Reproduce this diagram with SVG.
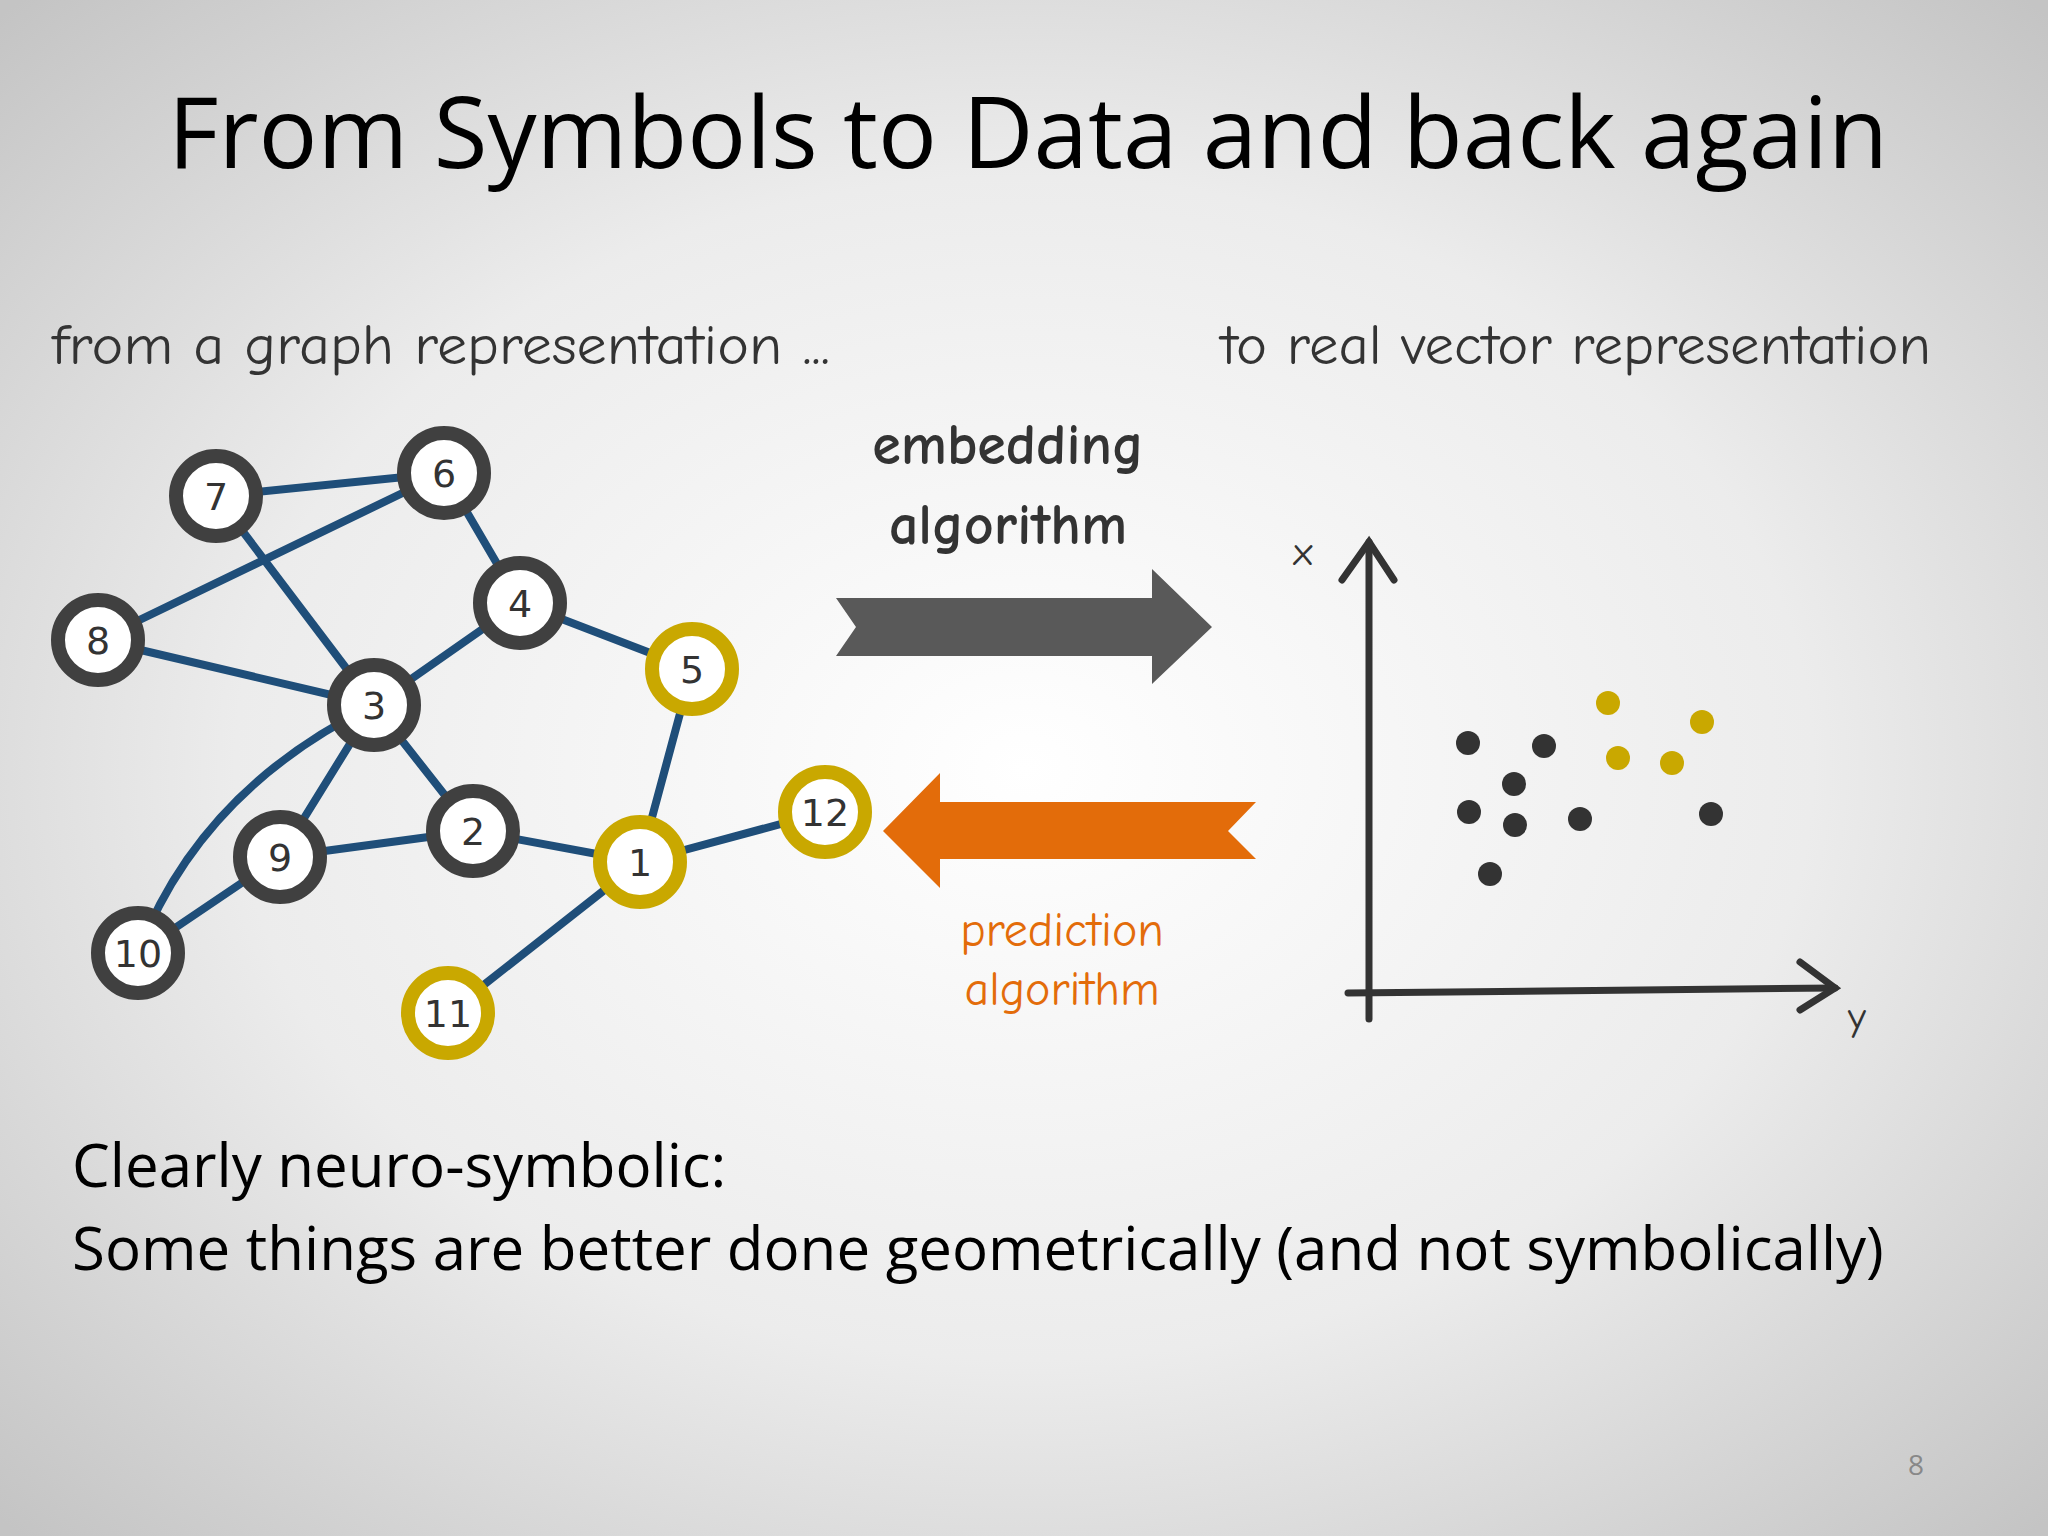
<svg xmlns="http://www.w3.org/2000/svg" width="2048" height="1536" viewBox="0 0 2048 1536">
<defs>
<radialGradient id="bg" cx="50%" cy="50%" r="70%">
<stop offset="0" stop-color="#ffffff"/><stop offset="0.55" stop-color="#ececec"/><stop offset="1" stop-color="#c4c4c4"/>
</radialGradient>
<style>
.t{font-family:"Open Sans","Liberation Sans",sans-serif;fill:#000}
.h{font-family:"Comic Neue","DejaVu Sans",sans-serif;fill:#333}
.e{stroke:#1f4e79;stroke-width:8;fill:none;stroke-linecap:round}
.n circle{fill:#fff;stroke-width:14}
.n text{font-family:"DejaVu Sans",sans-serif;font-size:38px;text-anchor:middle;fill:#333}
.k circle{stroke:#404040}
.g circle{stroke:#c9a800}
.dk{fill:#333}.dg{fill:#c9a800}
</style>
</defs>
<rect width="2048" height="1536" fill="url(#bg)"/>
<text class="t" x="1028" y="168" font-size="98" text-anchor="middle">From Symbols to Data and back again</text>
<text class="h" x="52" y="364" font-size="56" textLength="778" lengthAdjust="spacingAndGlyphs">from a graph representation ...</text>
<text class="h" x="1221" y="364" font-size="56" textLength="710" lengthAdjust="spacingAndGlyphs">to real vector representation</text>
<text class="h" x="1008" y="464" font-size="58" font-weight="bold" text-anchor="middle">embedding</text>
<text class="h" x="1008" y="544" font-size="58" font-weight="bold" text-anchor="middle">algorithm</text>
<text class="h" x="1062" y="946" font-size="48" text-anchor="middle" style="fill:#e36c0a">prediction</text>
<text class="h" x="1062" y="1005" font-size="48" text-anchor="middle" style="fill:#e36c0a">algorithm</text>
<polygon points="836,598 1152,598 1152,569 1212,627 1152,684 1152,656 836,656 856,627" fill="#595959"/>
<polygon points="883,831 940,773 940,802 1256,802 1228,831 1256,859 940,859 940,888" fill="#e36c0a"/>
<g id="connectors">
<line class="e" x1="216" y1="496" x2="444" y2="473"/>
<line class="e" x1="216" y1="496" x2="374" y2="705"/>
<line class="e" x1="98" y1="640" x2="444" y2="473"/>
<line class="e" x1="98" y1="640" x2="374" y2="705"/>
<line class="e" x1="444" y1="473" x2="520" y2="603"/>
<line class="e" x1="520" y1="603" x2="374" y2="705"/>
<line class="e" x1="520" y1="603" x2="692" y2="669"/>
<line class="e" x1="374" y1="705" x2="473" y2="831"/>
<line class="e" x1="374" y1="705" x2="280" y2="857"/>
<path class="e" d="M374,705 Q200,790 138,953"/>
<line class="e" x1="280" y1="857" x2="138" y2="953"/>
<line class="e" x1="280" y1="857" x2="473" y2="831"/>
<line class="e" x1="473" y1="831" x2="640" y2="862"/>
<line class="e" x1="640" y1="862" x2="692" y2="669"/>
<line class="e" x1="640" y1="862" x2="825" y2="812"/>
<line class="e" x1="640" y1="862" x2="448" y2="1013"/>
</g>
<g id="n7" class="n k"><circle cx="216" cy="496" r="40"/><text x="216" y="510">7</text></g>
<g id="n6" class="n k"><circle cx="444" cy="473" r="40"/><text x="444" y="487">6</text></g>
<g id="n8" class="n k"><circle cx="98" cy="640" r="40"/><text x="98" y="654">8</text></g>
<g id="n4" class="n k"><circle cx="520" cy="603" r="40"/><text x="520" y="617">4</text></g>
<g id="n3" class="n k"><circle cx="374" cy="705" r="40"/><text x="374" y="719">3</text></g>
<g id="n5" class="n g"><circle cx="692" cy="669" r="40"/><text x="692" y="683">5</text></g>
<g id="n9" class="n k"><circle cx="280" cy="857" r="40"/><text x="280" y="871">9</text></g>
<g id="n2" class="n k"><circle cx="473" cy="831" r="40"/><text x="473" y="845">2</text></g>
<g id="n1" class="n g"><circle cx="640" cy="862" r="40"/><text x="640" y="876">1</text></g>
<g id="n12" class="n g"><circle cx="825" cy="812" r="40"/><text x="825" y="826">12</text></g>
<g id="n10" class="n k"><circle cx="138" cy="953" r="40"/><text x="138" y="967">10</text></g>
<g id="n11" class="n g"><circle cx="448" cy="1013" r="40"/><text x="448" y="1027">11</text></g>
<g id="axes" stroke="#333" stroke-width="7" fill="none" stroke-linecap="round">
<line x1="1369" y1="1019" x2="1369" y2="542"/>
<polyline points="1342,580 1369,542 1394,580"/>
<line x1="1348" y1="993" x2="1835" y2="988"/>
<polyline points="1800,962 1835,988 1800,1010"/>
</g>
<text class="h" x="1303" y="565" font-size="40" text-anchor="middle">x</text>
<text class="h" x="1857" y="1030" font-size="40" text-anchor="middle">y</text>
<g class="dk"><circle cx="1468" cy="743" r="12"/><circle cx="1544" cy="746" r="12"/><circle cx="1514" cy="784" r="12"/><circle cx="1469" cy="812" r="12"/><circle cx="1515" cy="825" r="12"/><circle cx="1580" cy="819" r="12"/><circle cx="1490" cy="874" r="12"/><circle cx="1711" cy="814" r="12"/></g>
<g class="dg"><circle cx="1608" cy="703" r="12"/><circle cx="1702" cy="722" r="12"/><circle cx="1618" cy="758" r="12"/><circle cx="1672" cy="763" r="12"/></g>
<text class="t" x="72" y="1187" font-size="60">Clearly neuro-symbolic:</text>
<text class="t" x="72" y="1270" font-size="60">Some things are better done geometrically (and not symbolically)</text>
<text class="t" x="1916" y="1475" font-size="28" text-anchor="middle" style="fill:#888">8</text>
</svg>
